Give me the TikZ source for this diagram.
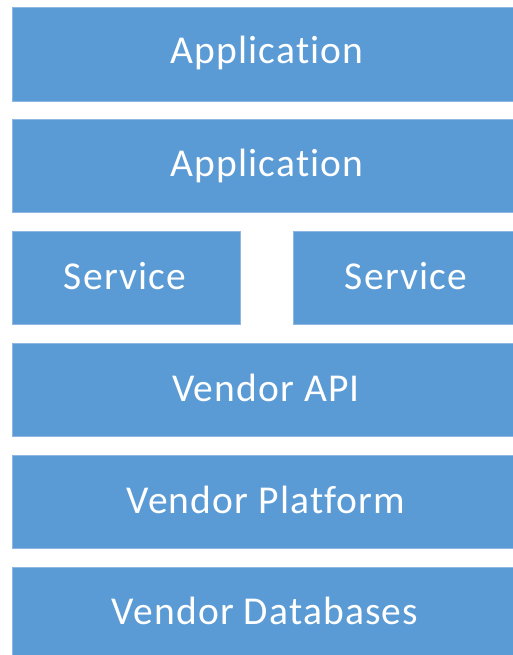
\documentclass[tikz,border=0pt]{standalone}
\usepackage{fontspec}
\setmainfont{Carlito}[Ligatures={NoCommon},LetterSpace=3]
\definecolor{boxblue}{HTML}{5B9BD5}
\definecolor{edgeblue}{HTML}{8EB8E3}
\begin{document}
\begin{tikzpicture}[x=1pt,y=-1pt,
  layer/.style={fill=boxblue,draw=edgeblue,line width=0.6pt},
  lbl/.style={text=white,font=\fontsize{39.5}{42}\selectfont,anchor=base,inner sep=0pt}]
\useasboundingbox (0,0) rectangle (513,655);
\draw[layer] (12,7) rectangle (513,101);
\draw[layer] (12,119) rectangle (513,212);
\draw[layer] (12,231) rectangle (240,324);
\draw[layer] (293,231) rectangle (513,324);
\draw[layer] (12,343) rectangle (513,436);
\draw[layer] (12,455) rectangle (513,548);
\draw[layer] (12,567) rectangle (513,661);
\node[lbl] (app1) at (267,64) {Application};
\node[lbl] (app2) at (267,176) {Application};
\node[lbl] (svc1) at (125,289) {Service};
\node[lbl] (svc2) at (406,289) {Service};
\node[lbl] (api) at (266,401) {Vendor API};
\node[lbl] (plat) at (266,513) {Vendor Platform};
\node[lbl] (db) at (265,624) {Vendor Databases};
\end{tikzpicture}
\end{document}
